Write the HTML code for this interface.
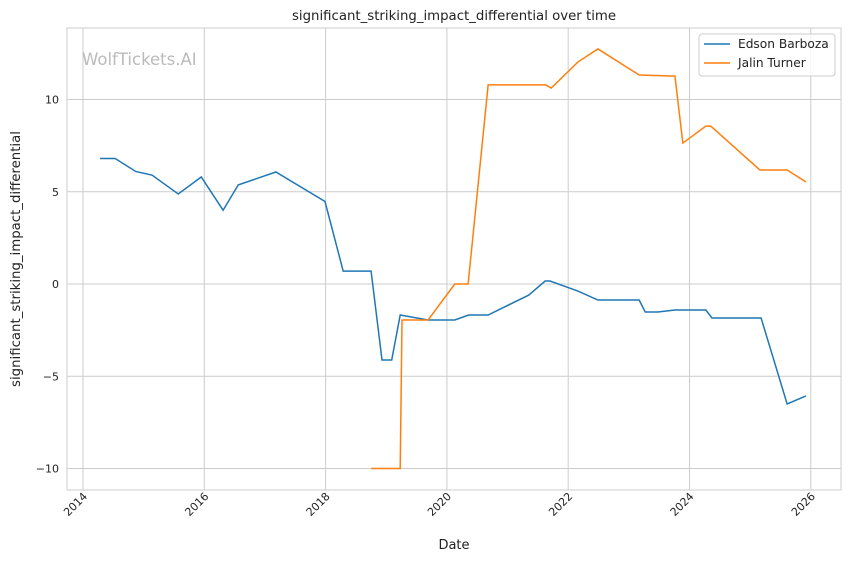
<!DOCTYPE html>
<html><head><meta charset="utf-8"><style>
body{margin:0;background:#fff;font-family:"Liberation Sans","DejaVu Sans",sans-serif}
svg text{font-family:"DejaVu Sans","Liberation Sans",sans-serif;fill:#222}
</style></head><body>
<svg id="c" width="850" height="561"></svg>
<script>
const blueYears=[2014.28,2014.53,2014.87,2015.14,2015.57,2015.95,2016.31,2016.56,2017.18,2017.99,2018.29,2018.75,2018.93,2019.09,2019.23,2019.69,2020.13,2020.36,2020.68,2021.35,2021.62,2021.70,2022.16,2022.49,2023.17,2023.27,2023.48,2023.76,2024.27,2024.37,2025.18,2025.61,2025.92];
const blueValues=[6.8,6.8,6.1,5.9,4.88,5.8,4.0,5.37,6.07,4.47,0.7,0.7,-4.12,-4.12,-1.68,-1.95,-1.95,-1.68,-1.68,-0.6,0.16,0.16,-0.38,-0.87,-0.87,-1.52,-1.52,-1.41,-1.41,-1.84,-1.84,-6.5,-6.07];
const orangeYears=[2018.75,2019.23,2019.26,2019.69,2020.13,2020.35,2020.68,2021.63,2021.72,2022.16,2022.49,2023.17,2023.76,2023.89,2024.27,2024.35,2025.16,2025.61,2025.92];
const orangeValues=[-10,-10,-1.95,-1.95,0,0,10.79,10.79,10.62,12.03,12.74,11.33,11.27,7.64,8.56,8.56,6.18,6.18,5.53];
const xTicks=[2014,2016,2018,2020,2022,2024,2026];
const yTicks=[-10,-5,0,5,10];
const L=67,R=841,T=28,B=490;
const xs=v=>83+(v-2014)*60.65;
const ys=v=>284-v*18.45;
const svg=document.getElementById('c');
const NS='http://www.w3.org/2000/svg';
function mk(t,a,p){const e=document.createElementNS(NS,t);for(const k in a)e.setAttribute(k,a[k]);(p||svg).appendChild(e);return e;}
xTicks.forEach(t=>{const x=xs(t);
const g=mk('line',{x1:x,x2:x,y1:T,y2:B,stroke:'#cccccc','stroke-width':1});


const tx=mk('text',{x:0,y:0,'font-size':11,'text-anchor':'end',transform:`translate(${x+5},${B+7}) rotate(-45)`});tx.textContent=t;

});
yTicks.forEach(t=>{const y=ys(t);
const g=mk('line',{x1:L,x2:R,y1:y,y2:y,stroke:'#cccccc','stroke-width':1});


const tx=mk('text',{x:L-8,y:y+4,'font-size':11,'text-anchor':'end'});tx.textContent=t<0?'\u2212'+(-t):t;

});
const fr=mk('rect',{x:L,y:T,width:R-L,height:B-T,fill:'none',stroke:'#cccccc','stroke-width':1});


function line(X,Y,c,n){const p=mk('polyline',{points:X.map((x,i)=>xs(x)+','+ys(Y[i])).join(' '),fill:'none',stroke:c,'stroke-width':1.5});

}
line(blueYears,blueValues,'#1f77b4','edson-barboza-line');
line(orangeYears,orangeValues,'#ff7f0e','jalin-turner-line');
const wm=mk('text',{x:82,y:65,'font-size':16.5,style:'fill:#bbbbbb'});wm.textContent='WolfTickets.AI';


const ti=mk('text',{x:454,y:20,'font-size':13.3,'text-anchor':'middle'});ti.textContent='significant_striking_impact_differential over time';


const xl=mk('text',{x:454,y:549,'font-size':13,'text-anchor':'middle'});xl.textContent='Date';


const yl=mk('text',{x:0,y:0,'font-size':13.3,'text-anchor':'middle',transform:'translate(20,259) rotate(-90)'});yl.textContent='significant_striking_impact_differential';


const lg=mk('g',{});


mk('rect',{x:699,y:34,width:136,height:42,rx:3,fill:'#fff',stroke:'#cccccc','fill-opacity':0.8},lg);
[['Edson Barboza','#1f77b4',44],['Jalin Turner','#ff7f0e',63]].forEach(([n,c,y])=>{
mk('line',{x1:704,x2:730,y1:y,y2:y,stroke:c,'stroke-width':1.5},lg);
const t=mk('text',{x:738,y:y+4,'font-size':12.2},lg);t.textContent=n;

});
</script>
</body></html>
